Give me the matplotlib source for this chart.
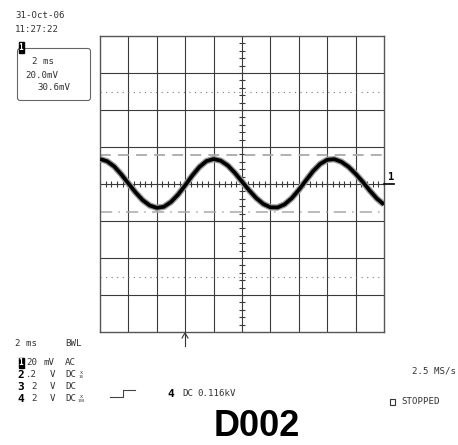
import matplotlib.pyplot as plt
from matplotlib.patches import FancyBboxPatch, Rectangle
import numpy as np

# Scope capture, channel 1 (20 mV/div, 2 ms/div)
time_ms = [i * 0.5 for i in range(41)]
ch1_mv = [13.5, 12.3, 9.5, 5.2, 0.3, -4.5, -8.7, -11.6, -12.9, -12.3,
          -9.7, -5.7, -0.7, 4.6, 9.2, 12.4, 13.5, 12.6, 10.0, 6.0,
          1.3, -3.4, -7.6, -10.8, -12.6, -12.7, -11.0, -7.7, -3.2, 1.9,
          6.9, 10.8, 13.1, 13.4, 12.0, 9.3, 5.5, 1.2, -3.6, -7.9, -11.1]

volts_per_div = 20.0
ms_per_div = 2.0
cursor_hi = 15.6
cursor_lo = -15.0

settings_box = ["2 ms", "20.0mV", "30.6mV"]
chan_rows = [("1", "20", "mV", "AC", ""),
             ("2", ".2", "V", "DC", "10"),
             ("3", "2", "V", "DC", ""),
             ("4", "2", "V", "DC", "100")]

W, H = 458, 445
fig = plt.figure(figsize=(W / 100, H / 100), dpi=100)


def px(x, y):
    return x / W, 1 - y / H


MONO = "DejaVu Sans Mono"
TXT = "#333333"
FS = 6.6

# graticule
ax = fig.add_axes([100 / W, 1 - 332 / H, 284 / W, 296 / H])
ax.set_xlim(0, 10 * ms_per_div)
ax.set_ylim(-4 * volts_per_div, 4 * volts_per_div)
ax.set_xticks([])
ax.set_yticks([])
for s in ax.spines.values():
    s.set_color("#555555")
    s.set_linewidth(1.0)

gcol = "#3a3a3a"
for i in range(1, 10):
    ax.axvline(i * ms_per_div, color=gcol, lw=0.8)
for j in range(-3, 4):
    ax.axhline(j * volts_per_div, color=gcol, lw=0.8)

# fine ticks on the centre axes
tx = np.arange(0, 10 * ms_per_div + 0.01, ms_per_div / 5)
ax.vlines(tx, -1.7, 1.7, color=gcol, lw=0.8)
ty = np.arange(-4 * volts_per_div, 4 * volts_per_div + 0.01, volts_per_div / 5)
ax.hlines(ty, 10 - 0.2, 10 + 0.2, color=gcol, lw=0.8)

# dotted reference levels
for lvl in (2.5 * volts_per_div, -2.5 * volts_per_div):
    ax.axhline(lvl, color="#777777", lw=0.8, ls=(0, (1, 4)))

# cursors
ax.axhline(cursor_hi, color="#aaaaaa", lw=1.3, ls=(0, (6, 4)))
ax.axhline(cursor_lo, color="#aaaaaa", lw=1.1, ls=(0, (8, 4, 1, 4)))

# trace
ax.plot(time_ms, ch1_mv, color="#9a9a9a", lw=4.6, solid_capstyle="butt", zorder=4)
ax.plot(time_ms, ch1_mv, color="black", lw=2.7, solid_capstyle="butt", zorder=5)

# trigger position arrow
fig.add_artist(plt.Line2D([185 / W, 185 / W], [1 - 346 / H, 1 - 333 / H],
                          color="#333333", lw=0.8))
fig.add_artist(plt.Line2D([182 / W, 185 / W, 188 / W],
                          [1 - 338 / H, 1 - 333 / H, 1 - 338 / H],
                          color="#333333", lw=0.8))

# channel 1 ground marker
fig.text(*px(388, 177), "1", fontsize=7.5, family=MONO, weight="bold",
         color="black", va="center", ha="left")
fig.add_artist(plt.Line2D([384 / W, 394 / W], [1 - 184 / H, 1 - 184 / H],
                          color="black", lw=1.2))

# date / time
fig.text(*px(15, 16), "31-Oct-06", fontsize=FS, family=MONO, color=TXT, va="center")
fig.text(*px(15, 30), "11:27:22", fontsize=FS, family=MONO, color=TXT, va="center")

# settings box
box = FancyBboxPatch(px(17.5, 100.5), 73 / W, 52 / H,
                     boxstyle="round,pad=0,rounding_size=0.006",
                     transform=fig.transFigure, fill=False,
                     ec="#666666", lw=0.8)
fig.add_artist(box)
fig.add_artist(Rectangle(px(18.5, 53), 5 / W, 11 / H, transform=fig.transFigure,
                         color="black"))
fig.text(*px(21, 47.5), "1", fontsize=5.5, family=MONO, weight="bold",
         color="white", ha="center", va="center")
fig.text(*px(32, 62), settings_box[0], fontsize=FS, family=MONO, color=TXT, va="center")
fig.text(*px(25, 75), settings_box[1], fontsize=FS, family=MONO, color=TXT, va="center")
fig.text(*px(37, 88), settings_box[2], fontsize=FS, family=MONO, color=TXT, va="center")

# bottom status block
fig.text(*px(15, 344), "2 ms", fontsize=FS, family=MONO, color=TXT, va="center")
fig.text(*px(65, 344), "BWL", fontsize=FS, family=MONO, color=TXT, va="center")

row_y = [362.5, 374.5, 386.5, 398.5]
for (ch, val, unit, cpl, probe), y in zip(chan_rows, row_y):
    if ch == "1":
        fig.add_artist(Rectangle(px(18.5, y + 5), 5 / W, 10 / H,
                                 transform=fig.transFigure, color="black"))
        fig.text(*px(21, y), ch, fontsize=5.5, family=MONO, weight="bold",
                 color="white", ha="center", va="center")
    else:
        fig.text(*px(21, y), ch, fontsize=8, family=MONO, weight="bold",
                 color="black", ha="center", va="center")
    fig.text(*px(37, y), val, fontsize=FS, family=MONO, color=TXT,
             ha="right", va="center")
    fig.text(*px(55, y), unit, fontsize=FS, family=MONO, color=TXT,
             ha="right", va="center")
    fig.text(*px(65, y), cpl, fontsize=FS, family=MONO, color=TXT, va="center")
    if probe:
        fig.text(*px(81, y - 2.5), "x", fontsize=3.8, family=MONO, color=TXT,
                 ha="center", va="center")
        fig.text(*px(81, y + 2.5), probe, fontsize=3.0, family=MONO, color=TXT,
                 ha="center", va="center")

# trigger slope symbol and level
fig.add_artist(plt.Line2D([110 / W, 123 / W, 123 / W, 135 / W],
                          [1 - 396.5 / H, 1 - 396.5 / H, 1 - 389.5 / H, 1 - 389.5 / H],
                          color="#444444", lw=0.8))
fig.text(*px(170.5, 394), "4", fontsize=8, family=MONO, weight="bold",
         color="black", ha="center", va="center")
fig.text(*px(182, 394), "DC", fontsize=FS, family=MONO, color=TXT, va="center")
fig.text(*px(197, 394), "0.116kV", fontsize=FS, family=MONO, color=TXT, va="center")

fig.text(*px(412, 371.5), "2.5 MS/s", fontsize=FS, family=MONO, color=TXT, va="center")
fig.add_artist(Rectangle(px(390, 405), 5 / W, 6 / H, transform=fig.transFigure,
                         fill=False, ec="#333333", lw=0.8))
fig.text(*px(401, 402), "STOPPED", fontsize=FS, family=MONO, color=TXT, va="center")

fig.text(*px(257, 427), "D002", fontsize=26,
         family=["Liberation Sans Narrow", "Liberation Sans"], weight="bold",
         color="black", ha="center", va="center")

fig.savefig("out.png", dpi=100)
